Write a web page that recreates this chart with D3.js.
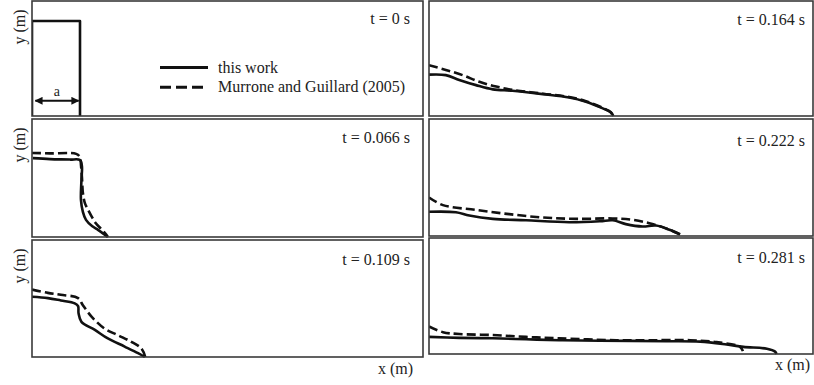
<!DOCTYPE html>
<html>
<head>
<meta charset="utf-8">
<script src="https://cdn.jsdelivr.net/npm/d3@7"></script>
<style>
html,body{margin:0;padding:0;background:#fff;}
svg{display:block;}
text{font-family:"Liberation Serif","Times New Roman",serif;fill:#222;}
</style>
</head>
<body>
<svg id="chart" width="814" height="385"></svg>
<script>
// ---- data (x, y in units of the initial column width a) ----
const timeLabels = ["t = 0 s", "t = 0.066 s", "t = 0.109 s", "t = 0.164 s", "t = 0.222 s", "t = 0.281 s"];
const seriesNames = ["this work", "Murrone and Guillard (2005)"];
const axisLabelX = "x (m)";
const axisLabelY = "y (m)";
const widthLabel = "a";

const initialColumn = [[0,0],[0,2],[1,2],[1,0]];

const work066 = [[0.02,1.66],[0.375,1.64],[0.79,1.63],[1.0,1.62],[1.04,1.49],[1.03,1.20],[1.02,0.78],[1.06,0.53],[1.125,0.36],[1.25,0.23],[1.375,0.15],[1.5,0.06],[1.58,0]];
const murrone066 = [[0,1.77],[0.375,1.76],[0.92,1.75],[1.0,1.68],[1.02,1.52],[1.04,1.26],[1.06,0.93],[1.10,0.72],[1.17,0.57],[1.25,0.42],[1.33,0.29],[1.44,0.17],[1.52,0.08],[1.58,0]];

const work109 = [[0,1.27],[0.33,1.24],[0.60,1.19],[0.89,1.13],[0.96,1.07],[0.97,0.92],[1.03,0.74],[1.31,0.57],[1.58,0.39],[1.93,0.22],[2.21,0.08],[2.35,0]];
const murrone109 = [[0,1.42],[0.33,1.35],[0.60,1.31],[0.96,1.24],[1.06,1.09],[1.24,0.85],[1.51,0.60],[1.79,0.46],[2.07,0.32],[2.28,0.18],[2.36,0]];

const work164 = [[0,0.87],[0.35,0.86],[0.63,0.76],[0.98,0.65],[1.33,0.56],[1.74,0.53],[2.37,0.46],[2.92,0.39],[3.27,0.30],[3.62,0.16],[3.79,0.08],[3.84,0]];
const murrone164 = [[0,1.07],[0.35,0.97],[0.70,0.86],[1.05,0.72],[1.40,0.62],[1.74,0.55],[2.37,0.47],[2.92,0.40],[3.27,0.31],[3.62,0.17],[3.79,0.07],[3.83,0]];

const work222 = [[0,0.51],[0.56,0.50],[0.84,0.43],[1.33,0.36],[2.02,0.33],[2.92,0.29],[3.56,0.31],[3.83,0.33],[4.10,0.25],[4.45,0.20],[4.73,0.22],[5.01,0.13],[5.23,0.03]];
const murrone222 = [[0,0.81],[0.29,0.65],[0.98,0.55],[1.67,0.46],[2.37,0.39],[3.06,0.36],[3.83,0.37],[4.24,0.34],[4.59,0.27],[4.94,0.16],[5.23,0.04]];

const work281 = [[0,0.36],[0.63,0.34],[1.33,0.33],[2.02,0.31],[2.71,0.29],[3.56,0.28],[4.95,0.27],[5.65,0.26],[6.20,0.20],[6.55,0.15],[7.04,0.11],[7.21,0.05],[7.24,0]];
const murrone281 = [[0,0.58],[0.29,0.46],[0.63,0.42],[1.33,0.40],[2.02,0.36],[2.71,0.33],[3.90,0.29],[4.60,0.29],[5.44,0.29],[5.99,0.25],[6.48,0.15],[6.54,0.06]];

const workSeries = [initialColumn, work066, work109, work164, work222, work281];
const murroneSeries = [null, murrone066, murrone109, murrone164, murrone222, murrone281];

// ---- layout ----
const pxPerA_x = 48, pxPerA_y = 47.5;
const panels = [
  {x0:32,  x1:423, y0:1,   y1:116, titleDy:23},
  {x0:32,  x1:423, y0:119, y1:237, titleDy:24},
  {x0:32,  x1:423, y0:240, y1:357, titleDy:25},
  {x0:429, x1:813, y0:1,   y1:116, titleDy:24},
  {x0:429, x1:813, y0:119, y1:236, titleDy:27},
  {x0:429, x1:813, y0:238, y1:354, titleDy:25}
];

const svg = d3.select("#chart");
const defs = svg.append("defs");
defs.append("marker").attr("id","ah").attr("viewBox","0 0 10 10").attr("refX",9).attr("refY",5)
  .attr("markerWidth",8).attr("markerHeight",8).attr("markerUnits","userSpaceOnUse").attr("orient","auto-start-reverse")
  .append("path").attr("d","M0,0L10,5L0,10z").attr("fill","#111");

panels.forEach((p, i) => {
  const x = d3.scaleLinear().domain([0, (p.x1 - p.x0) / pxPerA_x]).range([p.x0, p.x1]);
  const y = d3.scaleLinear().domain([0, (p.y1 - p.y0) / pxPerA_y]).range([p.y1, p.y0]);
  const g = svg.append("g");
  const line = d3.line().x(d => x(d[0])).y(d => y(d[1]));
  const smooth = i === 0 ? line.curve(d3.curveLinear) : line.curve(d3.curveCatmullRom.alpha(0.5));

  const clipId = "clip" + i;
  defs.append("clipPath").attr("id", clipId).append("rect")
    .attr("x", p.x0).attr("y", p.y0 - 2).attr("width", p.x1 - p.x0 + 2).attr("height", p.y1 - p.y0 + 3);

  if (murroneSeries[i]) {
    g.append("path").attr("clip-path", `url(#${clipId})`).attr("d", smooth(murroneSeries[i]))
      .attr("fill","none").attr("stroke","#111").attr("stroke-width",2.6)
      .attr("stroke-dasharray","9,4");
  }
  g.append("path").attr("clip-path", `url(#${clipId})`).attr("d", smooth(workSeries[i]))
    .attr("fill","none").attr("stroke","#111").attr("stroke-width",2.6)
    .attr("stroke-linejoin","round");

  // frame
  g.append("rect").attr("x", p.x0).attr("y", p.y0).attr("width", p.x1 - p.x0).attr("height", p.y1 - p.y0)
    .attr("fill","none").attr("stroke","#3a3a3a").attr("stroke-width",1.6);

  // title
  g.append("text").attr("x", p.x1 - (i < 3 ? 13 : 8)).attr("y", p.y0 + p.titleDy)
    .attr("text-anchor","end").attr("font-size",16).text(timeLabels[i]);

  if (i < 3) {
    g.append("text").attr("transform", `translate(25,${p.y0 + 26}) rotate(-90)`)
      .attr("text-anchor","middle").attr("font-size",16).text(axisLabelY);
  }

  if (i === 0) {
    // width arrow
    g.append("line").attr("x1", x(0.07)).attr("x2", x(0.97)).attr("y1", y(0.32)).attr("y2", y(0.32))
      .attr("stroke","#111").attr("stroke-width",2)
      .attr("marker-start","url(#ah)").attr("marker-end","url(#ah)");
    g.append("text").attr("x", x(0.52)).attr("y", y(0.42)).attr("text-anchor","middle")
      .attr("font-size",14).text(widthLabel);
    // legend
    const lx0 = 160, lx1 = 208, tx = 218;
    g.append("line").attr("x1",lx0).attr("x2",lx1).attr("y1",67.5).attr("y2",67.5)
      .attr("stroke","#111").attr("stroke-width",3);
    g.append("text").attr("x",tx).attr("y",72.5).attr("font-size",16).text(seriesNames[0]);
    g.append("line").attr("x1",lx0).attr("x2",lx1).attr("y1",87.3).attr("y2",87.3)
      .attr("stroke","#111").attr("stroke-width",3).attr("stroke-dasharray","11,5");
    g.append("text").attr("x",tx).attr("y",91.5).attr("font-size",16).text(seriesNames[1]);
  }
  if (i === 2) {
    g.append("text").attr("x", 413).attr("y", 374).attr("text-anchor","end").attr("font-size",16).text(axisLabelX);
  }
  if (i === 5) {
    g.append("text").attr("x", 810).attr("y", 370).attr("text-anchor","end").attr("font-size",16).text(axisLabelX);
  }
});
</script>
</body>
</html>
